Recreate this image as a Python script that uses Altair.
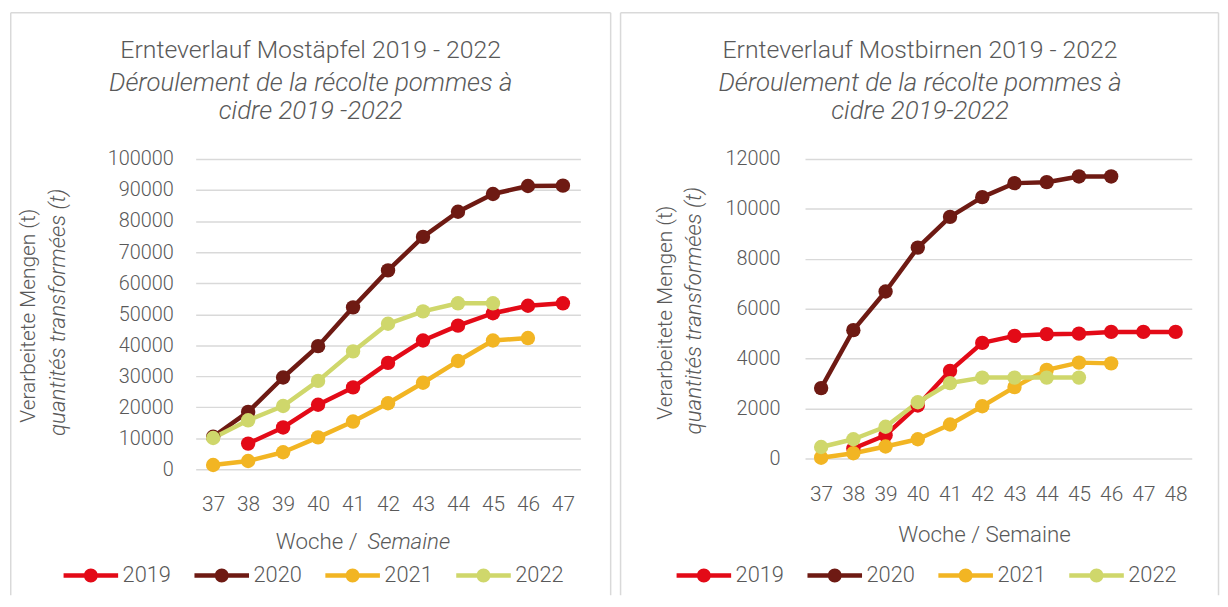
import altair as alt
import pandas as pd

# ---------------- data ----------------
years = ["2019", "2020", "2021", "2022"]
colors = ["#E30A17", "#6E1A13", "#F2B523", "#CFD76B"]

weeks_apfel = [37, 38, 39, 40, 41, 42, 43, 44, 45, 46, 47]
apfel_2019 = [None, 8300, 13500, 20800, 26400, 34300, 41500, 46300, 50300, 52700, 53500]
apfel_2020 = [10500, 18500, 29600, 39700, 52200, 64100, 74900, 83000, 88700, 91300, 91400]
apfel_2021 = [1400, 2700, 5500, 10300, 15400, 21300, 27900, 34900, 41500, 42300, None]
apfel_2022 = [10100, 15800, 20400, 28500, 38000, 46900, 50900, 53500, 53500, None, None]

weeks_birnen = [37, 38, 39, 40, 41, 42, 43, 44, 45, 46, 47, 48]
birnen_2019 = [None, 400, 930, 2120, 3510, 4630, 4910, 4980, 5000, 5070, 5070, 5070]
birnen_2020 = [2820, 5140, 6690, 8450, 9680, 10470, 11030, 11070, 11300, 11300, None, None]
birnen_2021 = [30, 210, 480, 770, 1360, 2090, 2860, 3550, 3840, 3810, None, None]
birnen_2022 = [460, 770, 1270, 2250, 3020, 3240, 3240, 3240, 3240, None, None, None]

apfel_ticks = [0, 10000, 20000, 30000, 40000, 50000, 60000, 70000, 80000, 90000, 100000]
birnen_ticks = [0, 2000, 4000, 6000, 8000, 10000, 12000]

FONT = "Roboto"
GREY = "#595959"
BORDER = "#D9D9D9"

LEGEND_PATH = ("M-3.93,-0.32 L3.93,-0.32 L3.93,0.32 L-3.93,0.32 Z "
               "M1,0 A1,1 0 1,1 -1,0 A1,1 0 1,1 1,0 Z")


def long_df(weeks, series):
    rows = []
    for y, c, vals in zip(years, colors, series):
        for w, v in zip(weeks, vals):
            if v is not None:
                rows.append({"Woche": w, "Jahr": y, "Farbe": c, "Menge": v})
    return pd.DataFrame(rows)


one = pd.DataFrame({"k": [0]})


def text(t, x, y, italic=False, size=20, angle=0, align="center", baseline="alphabetic"):
    kw = dict(text=t, font=FONT, fontWeight=300, fontSize=size, color=GREY,
              align=align, baseline=baseline)
    if italic:
        kw["fontStyle"] = "italic"
    if angle:
        kw["angle"] = angle
    return alt.Chart(one).mark_text(**kw).encode(x=alt.value(x), y=alt.value(y))


def rule(x, x2, y, y2):
    return alt.Chart(one).mark_rule(color=BORDER, strokeWidth=1.5).encode(
        x=alt.value(x), x2=alt.value(x2), y=alt.value(y), y2=alt.value(y2))


def panel(df, weeks, ticks, ymax, w, h, lab_pad, left, right, bottom, texts, legx, legy):
    xenc = alt.X("Woche:O", scale=alt.Scale(domain=weeks, type="point", padding=0.5),
                 axis=alt.Axis(title=None, labelAngle=0, domain=False, ticks=False,
                               grid=False, labelPadding=25, labelFontSize=21))
    yenc = alt.Y("Menge:Q", scale=alt.Scale(domain=[0, ymax], nice=False),
                 axis=alt.Axis(title=None, values=ticks, format="d", domain=False,
                               ticks=False, grid=True, gridColor=BORDER, gridWidth=1.5,
                               labelPadding=lab_pad, labelFontSize=20))
    base = alt.Chart(df)
    lines = base.mark_line(strokeWidth=4.5, strokeJoin="round").encode(
        x=xenc, y=yenc,
        stroke=alt.Stroke("Farbe:N", scale=None),
        detail="Jahr:N")
    points = base.mark_point(filled=True, size=210, opacity=1).encode(
        x=xenc, y=yenc,
        fill=alt.Fill("Jahr:N", scale=alt.Scale(domain=years, range=colors),
                      legend=alt.Legend(title=None, orient="none", direction="horizontal",
                                        legendX=legx, legendY=legy,
                                        symbolType=LEGEND_PATH, symbolSize=196,
                                        symbolStrokeWidth=0, symbolOpacity=1,
                                        labelFont=FONT, labelFontWeight=300,
                                        labelFontSize=22, labelColor=GREY,
                                        labelOffset=21, columnPadding=23, padding=0)),
        order=alt.Order("Jahr:N"))
    borders = [rule(left, left, -147.5, bottom), rule(left, right, -147.5, -147.5),
               rule(right, right, -147.5, bottom)]
    layers = borders + [lines, points] + texts
    return alt.layer(*layers).properties(width=w, height=h)


# left panel: plot origin at page (196.5, 157)
left_texts = [
    text("Ernteverlauf Mostäpfel 2019 - 2022", 116, -102, size=25),
    text("Déroulement de la récolte pommes à", 116, -69, italic=True, size=26),
    text("cidre 2019 -2022", 116, -40, italic=True, size=26),
    text("Verarbeitete Mengen (t)", -168, 158, size=21, angle=270, baseline="middle"),
    text("quantités transformées (t)", -138.5, 154.6, italic=True, size=22.5,
         angle=270, baseline="middle"),
    text("Woche /", 163.3, 393.7, size=22.5, align="right"),
    text("Semaine", 173.2, 393.7, italic=True, size=22.5, align="left"),
]
left = panel(long_df(weeks_apfel, [apfel_2019, apfel_2020, apfel_2021, apfel_2022]),
             weeks_apfel, apfel_ticks, 100000, 388, 313, 22.5,
             -186.5, 418.5, 440, left_texts, -116.7, 409)

# right panel: plot origin at page (810, 157)
right_texts = [
    text("Ernteverlauf Mostbirnen 2019 - 2022", 116, -102, size=25),
    text("Déroulement de la récolte pommes à", 116, -69, italic=True, size=26),
    text("cidre 2019-2022", 116, -40, italic=True, size=26),
    text("Verarbeitete Mengen  (t)", -140, 155, size=21, angle=270, baseline="middle"),
    text("quantités transformées (t)", -112, 153, italic=True, size=22.5,
         angle=270, baseline="middle"),
    text("Woche / Semaine", 181, 386.3, size=22.5),
]
right = panel(long_df(weeks_birnen, [birnen_2019, birnen_2020, birnen_2021, birnen_2022]),
              weeks_birnen, birnen_ticks, 12000, 390, 302, 25.2,
              -186, 417, 440, right_texts, -113, 409)

chart = alt.hconcat(left, right, spacing=7.5).resolve_scale(
    x="independent", y="independent", fill="independent"
).resolve_legend(fill="independent").properties(
    padding={"left": 1.25, "top": 0.75, "right": 0, "bottom": 0}
).configure_view(stroke=None).configure_axis(
    labelFont=FONT, labelFontWeight=300, labelColor=GREY
)

chart.save("out.html", embed_options={"renderer": "svg", "actions": False})
